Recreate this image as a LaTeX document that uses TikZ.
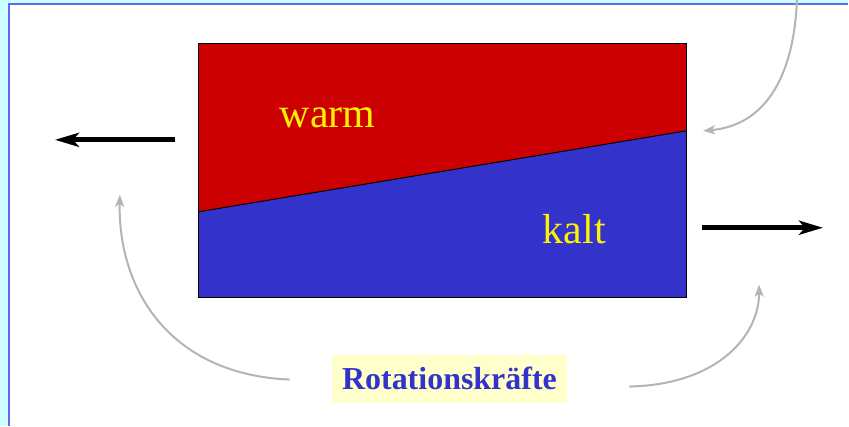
\documentclass[tikz,border=0pt]{standalone}
\usepackage{xcolor}
\usepackage{tikz}
\usepackage{fontspec}
\setmainfont{Liberation Serif}
\usetikzlibrary{arrows.meta}
\definecolor{warmrot}{RGB}{204, 0, 0}
\definecolor{kaltblau}{RGB}{51, 51, 204}
\definecolor{kraftgrau}{RGB}{180, 180, 180}
\definecolor{hellgelb}{RGB}{255, 255, 204}
\definecolor{rahmencyan}{RGB}{204, 255, 255}
\definecolor{rahmenblau}{RGB}{102, 102, 240}

\begin{document}
\begin{tikzpicture}[x=0.5pt, y=-0.5pt,
    schicht/.style={draw=black, line width=0.5pt},
    luft/.style={text=yellow, font=\fontsize{21}{25}\selectfont},
    wind/.style={-{Stealth[length=12pt, width=7pt, inset=3pt]}, line width=2.4pt, black},
    kraft/.style={-{Stealth[length=6pt, width=4.5pt, inset=1.5pt]}, line width=1pt, kraftgrau},
    etikett/.style={rectangle, fill=hellgelb, text=kaltblau, inner xsep=5pt,
                    minimum height=24pt, font=\fontsize{16}{19}\selectfont\bfseries}
]
    % Rahmen
    \fill[rahmencyan] (0,0) rectangle (849,426);
    \fill[white] (9,4) rectangle (849,426);
    \draw[rahmenblau, line width=1pt] (9,426) -- (9,4) -- (849,4);
    \useasboundingbox (0,0) rectangle (849,426);

    % Luftschichten
    \coordinate (olinks) at (199,44);
    \coordinate (orechts) at (687,44);
    \coordinate (mrechts) at (687,131);
    \coordinate (mlinks) at (199,212);
    \coordinate (urechts) at (687,298);
    \coordinate (ulinks) at (199,298);
    \fill[warmrot] (olinks) -- (orechts) -- (mrechts) -- (mlinks) -- cycle;
    \fill[kaltblau] (mlinks) -- (mrechts) -- (urechts) -- (ulinks) -- cycle;
    \draw[schicht] (olinks) rectangle (urechts);
    \draw[schicht] (mlinks) -- (mrechts);
    \node[luft] (warm) at (328,118) {warm};
    \node[luft] (kalt) at (575,229) {kalt};

    % Winde
    \coordinate (wlstart) at (175,140);
    \coordinate (wlende) at (55,140);
    \coordinate (wrstart) at (703,228);
    \coordinate (wrende) at (824,228);
    \draw[wind] (wlstart) -- (wlende);
    \draw[wind] (wrstart) -- (wrende);

    % Rotationskräfte
    \node[etikett] (rot) at (450,379) {Rotationskräfte};
    \coordinate (klstart) at (290,380);
    \coordinate (klende) at (120,195);
    \coordinate (krstart) at (630,387);
    \coordinate (krende) at (760,285);
    \coordinate (kostart) at (798,-4);
    \coordinate (koende) at (704,131);
    \draw[kraft] (klstart) .. controls (170,375) and (118,290) .. (klende);
    \draw[kraft] (krstart) .. controls (720,385) and (760,335) .. (krende);
    \draw[kraft] (kostart) .. controls (796,70) and (770,125) .. (koende);
\end{tikzpicture}
\end{document}
